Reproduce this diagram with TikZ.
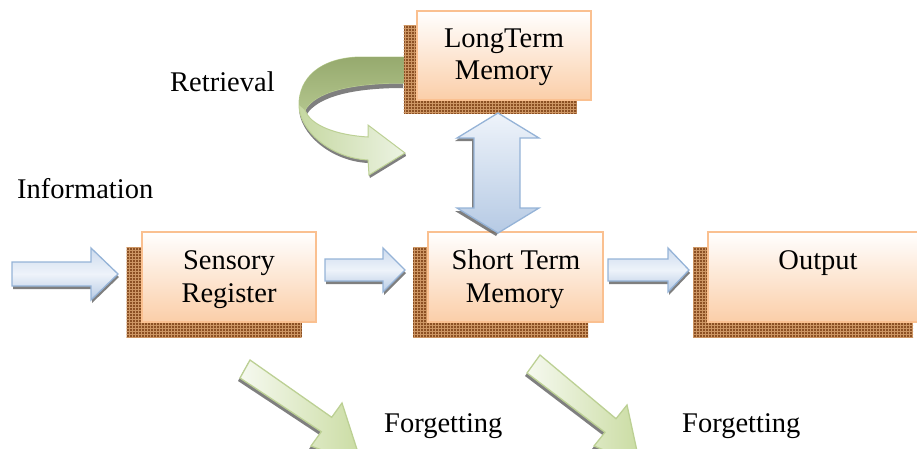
\documentclass[tikz,border=0pt]{standalone}
\usepackage{fontspec}
\setmainfont{Liberation Serif}
\usetikzlibrary{patterns}
\definecolor{boxborder}{RGB}{250,192,144}
\definecolor{boxfill}{RGB}{251,206,168}
\definecolor{shbrown}{RGB}{140,80,35}
\definecolor{shlight}{RGB}{205,150,100}
\definecolor{blueborder}{RGB}{149,179,215}
\definecolor{bluetop}{RGB}{205,219,238}
\definecolor{bluemid}{RGB}{238,243,250}
\definecolor{bluebot}{RGB}{182,202,228}
\definecolor{greenborder}{RGB}{188,208,148}
\definecolor{greenlight}{RGB}{246,249,240}
\definecolor{greendark}{RGB}{202,220,162}
\definecolor{facelight}{RGB}{236,243,226}
\definecolor{facedark}{RGB}{198,216,162}
\definecolor{olivetop}{RGB}{150,170,110}
\definecolor{olivebot}{RGB}{178,196,140}
\definecolor{arrowshadow}{RGB}{95,95,95}
\begin{document}
\begin{tikzpicture}[x=1pt,y=-1pt,
  boxfront/.style={draw=boxborder, line width=1.8pt, top color=white, bottom color=boxfill, inner sep=0pt},
  boxshadow/.style={fill=shbrown, postaction={pattern=grid, pattern color=shlight}, inner sep=0pt},
  bluearrow/.style={draw=blueborder, line width=1.3pt, line join=miter, top color=bluetop, bottom color=bluebot, middle color=bluemid},
  vblue/.style={draw=blueborder, line width=1.3pt, line join=miter, top color=bluemid, bottom color=bluebot},
  greenarrow/.style={draw=greenborder, line width=1.3pt, line join=miter, left color=greenlight, right color=greendark},
  ashadow/.style={fill=arrowshadow, opacity=0.8},
  txt/.style={font=\fontsize{28.5}{33}\selectfont, inner sep=0pt, text=black},
]
\useasboundingbox (0,0) rectangle (917,451);
\clip (0,0) rectangle (917,451);

% ---------- Retrieval curved arrow ----------
\fill[ashadow] (368,163) .. controls (330,161) and (299,133) .. (299,108) -- (299,105)
  .. controls (299,130) and (330,158) .. (368,160) -- cycle;
\fill[ashadow] (369,175) -- (405,153) -- (406,156) -- (370,178) -- cycle;
\fill[ashadow] (305,110) .. controls (315,92) and (350,83) .. (403,83) -- (403,88)
  .. controls (352,88) and (318,97) .. (307,114) -- cycle;
\path[draw=greenborder, line width=1pt, line join=miter, left color=facedark, right color=facelight]
  (405,57) -- (360,57) .. controls (320,58) and (299,78) .. (299,105)
  .. controls (299,130) and (330,158) .. (368,160) -- (369,175) -- (405,153) -- (368,125) -- (368,137)
  .. controls (335,135) and (310,125) .. (305,110)
  .. controls (315,92) and (350,83) .. (403,83) -- (405,83) -- cycle;
\path[top color=olivetop, bottom color=olivebot]
  (405,57) -- (360,57) .. controls (320,58) and (299,78) .. (299,105) -- (305,110)
  .. controls (315,92) and (350,83) .. (403,83) -- (405,83) -- cycle;

% ---------- Boxes ----------
\coordinate (ltmpos) at (504,55.5);
\coordinate (srpos) at (229,277);
\coordinate (stmpos) at (515.5,277);
\coordinate (outpos) at (818,277);

\node[boxshadow, minimum width=173pt, minimum height=88pt] (ltmsh) at ([shift={(-14,14)}]ltmpos) {};
\node[boxfront, minimum width=174pt, minimum height=89pt] (ltm) at (ltmpos) {};
\node[boxshadow, minimum width=175pt, minimum height=90pt] (srsh) at ([shift={(-15,15)}]srpos) {};
\node[boxfront, minimum width=174pt, minimum height=90pt] (sr) at (srpos) {};
\node[boxshadow, minimum width=175pt, minimum height=90pt] (stmsh) at ([shift={(-15,15)}]stmpos) {};
\node[boxfront, minimum width=175pt, minimum height=90pt] (stm) at (stmpos) {};
\node[boxshadow, minimum width=220pt, minimum height=90pt] (outsh) at ([shift={(-15,15)}]outpos) {};
\node[boxfront, minimum width=220pt, minimum height=90pt] (out) at (outpos) {};

% ---------- Box texts ----------
\node[txt, anchor=base] (ltmt1) at (504,47) {LongTerm};
\node[txt, anchor=base] (ltmt2) at (504,79) {Memory};
\node[txt, anchor=base] (srt1) at (229,269) {Sensory};
\node[txt, anchor=base] (srt2) at (229,302) {Register};
\node[txt, anchor=base] (stmt1) at (516,269) {Short Term};
\node[txt, anchor=base] (stmt2) at (515,302) {Memory};
\node[txt, anchor=base] (outt) at (818,269) {Output};

% ---------- Vertical double arrow ----------
\fill[ashadow] (496,116) -- (455,141) -- (472,141) -- (472,211) -- (455,211) -- (496,236) -- (498,233) -- (457,208) -- (474,208) -- (474,138) -- (457,138) -- (498,113) -- cycle;
\path[vblue] (498,113) -- (539,138) -- (520,138) -- (520,208) -- (539,208) -- (498,233)
  -- (457,208) -- (474,208) -- (474,138) -- (457,138) -- cycle;

% ---------- Horizontal blue arrows ----------
\fill[ashadow] (13,265) -- (92,265) -- (92,251) -- (119,277) -- (92,303) -- (92,289) -- (13,289) -- cycle;
\path[bluearrow] (12,262) -- (91,262) -- (91,248) -- (118,274) -- (91,300) -- (91,286) -- (12,286) -- cycle;

\fill[ashadow] (326,262) -- (384,262) -- (384,251) -- (406,273) -- (384,295) -- (384,284) -- (326,284) -- cycle;
\path[bluearrow] (325,259) -- (383,259) -- (383,248) -- (405,270) -- (383,292) -- (383,281) -- (325,281) -- cycle;

\fill[ashadow] (609,262) -- (669,262) -- (669,251) -- (690,273) -- (669,295) -- (669,284) -- (609,284) -- cycle;
\path[bluearrow] (608,259) -- (668,259) -- (668,248) -- (689,270) -- (668,292) -- (668,281) -- (608,281) -- cycle;

% ---------- Forgetting arrows (cut by the lower edge) ----------
\begin{scope}
\clip (0,0) rectangle (917,448);
\begin{scope}[shift={(-2,3)}]
  \fill[ashadow] (250,360) -- (331.7,417.3) -- (342,403) -- (362,465) -- (311,446) -- (321.3,431.7) -- (240,378) -- cycle;
  \fill[ashadow] (540,355) -- (616,418.7) -- (627,405) -- (640,465) -- (594,446) -- (605,432.3) -- (527,373) -- cycle;
\end{scope}
\path[greenarrow] (250,360) -- (331.7,417.3) -- (342,403) -- (362,465) -- (311,446) -- (321.3,431.7) -- (240,378) -- cycle;
\path[greenarrow] (540,355) -- (616,418.7) -- (627,405) -- (640,465) -- (594,446) -- (605,432.3) -- (527,373) -- cycle;
\end{scope}

% ---------- Labels ----------
\node[txt, anchor=base west] (info) at (17,198) {Information};
\node[txt, anchor=base west] (retr) at (170,91) {Retrieval};
\node[txt, anchor=base west] (forg1) at (384,432) {Forgetting};
\node[txt, anchor=base west] (forg2) at (682,432) {Forgetting};
\end{tikzpicture}
\end{document}
